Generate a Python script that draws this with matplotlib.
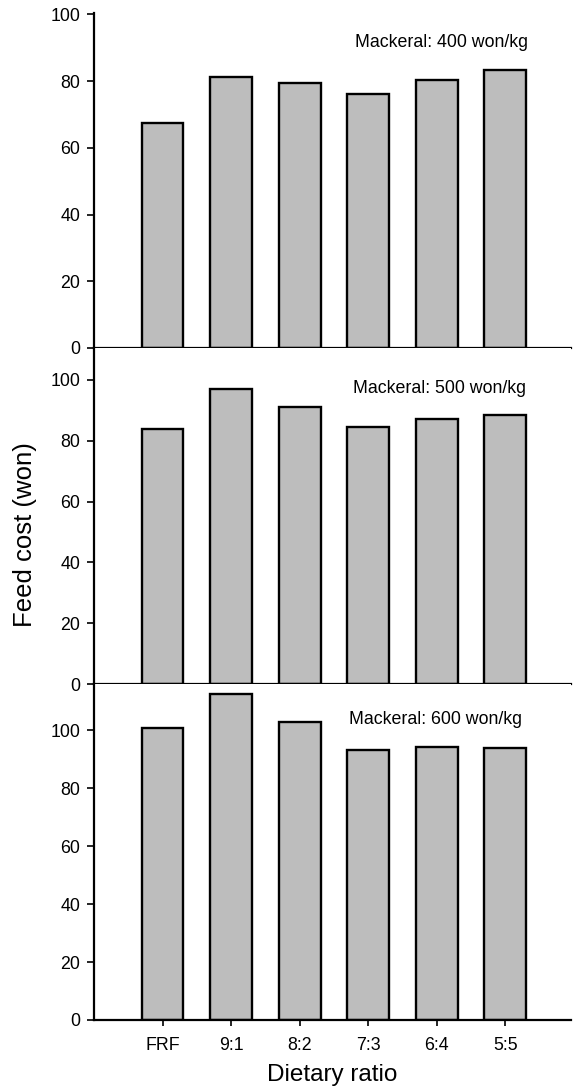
import matplotlib
matplotlib.use('Agg')
import matplotlib.pyplot as plt

plt.rcParams['font.family'] = ['Liberation Sans', 'DejaVu Sans']

# Data
ratios = ['FRF', '9:1', '8:2', '7:3', '6:4', '5:5']
cost_400 = [67.3, 81.3, 79.5, 76.2, 80.2, 83.3]
cost_500 = [83.9, 96.9, 91.0, 84.6, 87.0, 88.4]
cost_600 = [100.6, 112.3, 102.8, 93.3, 94.0, 93.7]
panel_labels = ['Mackeral: 400 won/kg', 'Mackeral: 500 won/kg', 'Mackeral: 600 won/kg']
y_ticks = [0, 20, 40, 60, 80, 100]

series = [cost_400, cost_500, cost_600]
y_tops = [100.4, 110.4, 115.8]
label_pos = [(4.07, 91.7), (4.04, 97.0), (3.99, 103.8)]

W, H = 573, 1088
fig = plt.figure(figsize=(W / 100, H / 100), dpi=100)

left = 94 / W
width = (571 - 94) / W
edges = [13, 348, 684.3, 1020]  # pixel rows of panel tops/bottoms

x = list(range(len(ratios)))
for i, vals in enumerate(series):
    top_px, bot_px = edges[i], edges[i + 1]
    ax = fig.add_axes([left, 1 - bot_px / H, width, (bot_px - top_px) / H])
    ax.bar(x, vals, width=0.61, color='#bdbdbd', edgecolor='black', linewidth=1.7, zorder=2)
    ax.set_xlim(-1.0, 5.96)
    ax.set_ylim(0, y_tops[i])
    ax.set_yticks(y_ticks)
    ax.tick_params(axis='y', direction='out', length=5, width=1.2, labelsize=12.8, pad=5)
    for s in ['top', 'right']:
        ax.spines[s].set_visible(False)
    ax.spines['left'].set_linewidth(1.6)
    ax.spines['bottom'].set_linewidth(1.6)
    ax.text(label_pos[i][0], label_pos[i][1], panel_labels[i], fontsize=12.8,
            ha='center', va='center')
    if i < 2:
        ax.set_xticks([])
    else:
        ax.set_xticks(x)
        ax.set_xticklabels(ratios)
        ax.tick_params(axis='x', direction='out', length=4, width=1.2, labelsize=12.8, pad=8)

fig.text(25 / W, 1 - 535 / H, 'Feed cost (won)', rotation=90, fontsize=18.5,
         ha='center', va='center')
fig.text(332 / W, 1 - 1075 / H, 'Dietary ratio', fontsize=17.5, ha='center', va='center')

plt.savefig('out.png', dpi=100)
